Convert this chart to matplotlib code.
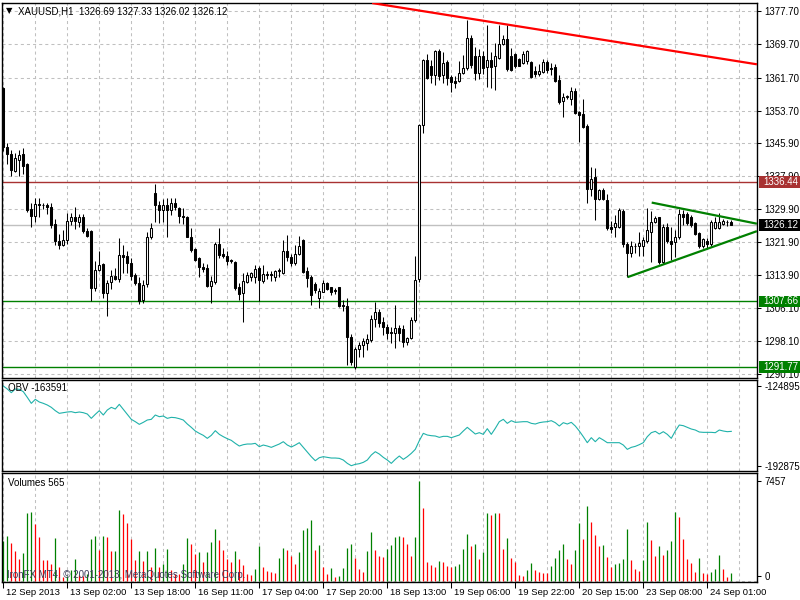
import matplotlib
matplotlib.use("Agg")
import matplotlib.pyplot as plt
import matplotlib.transforms as mtrans
from matplotlib.patches import Rectangle
import numpy as np

plt.rcParams['font.family'] = ['Liberation Sans', 'DejaVu Sans']
plt.rcParams['lines.scale_dashes'] = False

# ---- XAUUSD H1 bars, 12 Sep 2013 10:00 .. 24 Sep 2013 ----
opens = [
    1359.2, 1345.0, 1343.2, 1339.2, 1341.8, 1343.2, 1340.8, 1329.9, 1328.3, 1331.1,
    1331.0, 1330.8, 1330.5, 1326.4, 1322.3, 1321.3, 1322.4, 1327.1, 1328.0, 1326.8,
    1328.0, 1324.7, 1324.7, 1310.8, 1315.2, 1316.7, 1309.6, 1312.2, 1313.8, 1313.0,
    1318.8, 1318.6, 1316.9, 1313.9, 1312.0, 1307.9, 1311.8, 1323.1, 1333.9, 1331.0,
    1329.8, 1331.0, 1329.8, 1331.5, 1330.3, 1328.3, 1328.1, 1323.3, 1320.2, 1318.0,
    1315.9, 1315.8, 1311.4, 1312.2, 1321.5, 1319.0, 1318.6, 1317.6, 1317.2, 1311.2,
    1309.6, 1312.3, 1313.5, 1313.5, 1315.8, 1312.5, 1314.3, 1314.3, 1313.5, 1315.0,
    1314.6, 1319.8, 1318.4, 1317.0, 1319.1, 1322.5, 1315.0, 1313.6, 1311.8, 1308.4,
    1310.0, 1312.0, 1311.0, 1310.4, 1311.0, 1306.8, 1306.5, 1299.1, 1291.9, 1296.1,
    1297.1, 1297.7, 1298.3, 1303.5, 1305.0, 1302.7, 1301.5, 1300.3, 1299.9, 1301.3,
    1301.0, 1297.8, 1298.7, 1303.1, 1313.0, 1350.2, 1366.0, 1364.5, 1362.3, 1368.2,
    1362.3, 1365.5, 1361.9, 1360.8, 1360.9, 1362.9, 1363.9, 1371.3, 1366.9, 1362.7,
    1366.9, 1364.3, 1365.9, 1364.6, 1366.5, 1369.7, 1371.0, 1367.0, 1367.4, 1366.2,
    1365.3, 1365.8, 1365.5, 1363.4, 1362.6, 1363.1, 1365.5, 1364.0, 1364.3, 1361.1,
    1356.1, 1357.1, 1356.5, 1358.5, 1353.3, 1352.9, 1350.0, 1334.9, 1337.8, 1332.3,
    1334.5, 1332.1, 1325.7, 1325.7, 1325.7, 1329.5, 1321.5, 1319.4, 1320.9, 1321.1,
    1321.0, 1322.3, 1324.5, 1326.7, 1327.9, 1317.2, 1325.5, 1322.3, 1322.0, 1323.1,
    1328.8, 1328.8, 1328.1, 1326.5, 1324.1, 1321.0, 1322.2, 1321.5, 1325.3, 1325.4,
    1326.3, 1326.9, 1326.69]
highs = [
    1359.5, 1346.0, 1344.2, 1343.4, 1344.2, 1344.7, 1341.0, 1331.3, 1332.5, 1332.5,
    1331.5, 1331.5, 1331.5, 1327.5, 1324.0, 1324.9, 1328.9, 1329.1, 1330.5, 1328.7,
    1328.7, 1325.4, 1324.8, 1317.4, 1319.7, 1317.0, 1312.8, 1315.2, 1315.6, 1322.9,
    1321.3, 1319.7, 1318.0, 1314.4, 1313.6, 1312.8, 1324.5, 1326.5, 1336.0, 1332.0,
    1332.4, 1332.5, 1332.5, 1332.5, 1330.5, 1330.1, 1328.2, 1325.3, 1320.5, 1318.4,
    1316.9, 1316.6, 1313.8, 1322.1, 1325.3, 1320.5, 1319.7, 1317.8, 1317.4, 1312.0,
    1314.4, 1314.8, 1314.8, 1316.4, 1316.2, 1316.4, 1315.0, 1314.9, 1315.2, 1315.6,
    1322.5, 1323.7, 1319.1, 1321.3, 1323.4, 1322.6, 1316.0, 1314.0, 1312.4, 1310.8,
    1312.8, 1312.2, 1311.2, 1310.8, 1311.1, 1308.0, 1308.4, 1299.7, 1296.7, 1297.9,
    1298.7, 1299.8, 1304.3, 1307.6, 1305.8, 1303.9, 1302.1, 1301.4, 1306.8, 1302.0,
    1301.9, 1299.1, 1303.9, 1318.6, 1350.5, 1366.3, 1367.5, 1366.0, 1368.3, 1368.5,
    1367.9, 1366.0, 1362.3, 1362.0, 1365.6, 1367.1, 1375.6, 1372.0, 1369.2, 1368.5,
    1368.2, 1374.4, 1367.8, 1370.0, 1374.5, 1372.0, 1374.4, 1368.8, 1367.6, 1366.5,
    1368.2, 1368.3, 1365.7, 1364.6, 1364.9, 1366.3, 1366.0, 1365.2, 1364.9, 1362.3,
    1357.9, 1357.6, 1359.3, 1359.1, 1353.6, 1356.5, 1350.5, 1340.2, 1339.8, 1334.9,
    1335.0, 1333.5, 1327.0, 1328.5, 1330.3, 1329.9, 1321.9, 1322.3, 1321.7, 1324.5,
    1323.3, 1330.3, 1329.5, 1328.3, 1328.1, 1326.3, 1326.5, 1325.7, 1324.9, 1330.0,
    1329.8, 1329.2, 1328.5, 1326.7, 1324.3, 1323.0, 1323.0, 1327.3, 1328.1, 1328.9,
    1327.5, 1327.3, 1327.33]
lows = [
    1344.0, 1340.8, 1338.0, 1338.8, 1337.9, 1338.5, 1329.3, 1325.7, 1326.9, 1328.1,
    1330.0, 1328.8, 1325.3, 1321.3, 1320.3, 1321.0, 1321.5, 1326.1, 1325.1, 1325.5,
    1324.2, 1323.1, 1307.8, 1310.2, 1315.0, 1308.4, 1304.2, 1310.6, 1312.8, 1312.4,
    1314.4, 1314.4, 1312.8, 1311.6, 1307.0, 1307.2, 1311.2, 1322.7, 1326.7, 1326.5,
    1326.9, 1323.3, 1328.5, 1329.8, 1326.5, 1326.3, 1323.1, 1319.5, 1317.4, 1313.5,
    1314.7, 1311.2, 1307.3, 1311.8, 1318.0, 1318.0, 1316.4, 1317.0, 1310.5, 1308.0,
    1302.7, 1312.0, 1312.6, 1312.0, 1307.8, 1312.0, 1313.0, 1312.6, 1312.5, 1313.5,
    1314.3, 1317.5, 1316.2, 1316.5, 1318.9, 1314.5, 1311.0, 1306.8, 1309.7, 1306.0,
    1309.8, 1310.3, 1309.2, 1309.3, 1306.2, 1305.4, 1292.3, 1292.3, 1291.2, 1294.3,
    1294.3, 1295.9, 1297.9, 1301.5, 1301.5, 1299.5, 1298.5, 1297.5, 1296.3, 1298.0,
    1296.7, 1297.1, 1298.5, 1302.7, 1312.3, 1348.4, 1361.3, 1360.3, 1359.9, 1361.1,
    1360.3, 1359.9, 1358.3, 1359.1, 1360.6, 1362.5, 1363.6, 1363.9, 1361.1, 1361.4,
    1362.6, 1359.5, 1359.1, 1358.7, 1366.3, 1369.5, 1363.4, 1363.2, 1364.0, 1364.4,
    1364.9, 1364.9, 1361.5, 1361.9, 1362.1, 1362.8, 1362.9, 1362.4, 1360.7, 1355.3,
    1352.1, 1356.6, 1355.1, 1352.8, 1346.2, 1349.6, 1331.5, 1333.0, 1327.3, 1332.1,
    1332.1, 1324.9, 1324.1, 1323.3, 1325.4, 1320.8, 1313.5, 1318.3, 1319.3, 1318.6,
    1318.5, 1321.8, 1317.2, 1326.5, 1316.6, 1316.6, 1321.8, 1317.6, 1318.3, 1322.7,
    1326.1, 1326.0, 1325.6, 1323.6, 1320.5, 1320.6, 1320.2, 1321.1, 1325.0, 1325.0,
    1326.1, 1325.8, 1326.02]
closes = [
    1345.0, 1343.3, 1339.4, 1342.2, 1343.0, 1340.4, 1329.7, 1328.3, 1331.1, 1331.0,
    1330.8, 1330.4, 1326.1, 1322.3, 1321.3, 1322.4, 1327.1, 1328.0, 1327.0, 1328.0,
    1324.7, 1323.4, 1310.9, 1315.2, 1316.4, 1309.7, 1312.0, 1313.8, 1313.0, 1318.8,
    1318.3, 1316.8, 1313.8, 1312.0, 1307.7, 1311.7, 1323.1, 1325.3, 1330.8, 1329.8,
    1331.0, 1329.8, 1331.5, 1330.5, 1328.2, 1328.0, 1323.3, 1320.1, 1317.6, 1315.9,
    1315.5, 1311.4, 1312.6, 1321.5, 1318.8, 1318.7, 1317.5, 1317.3, 1310.8, 1309.4,
    1312.6, 1314.0, 1314.6, 1315.5, 1312.8, 1314.3, 1314.1, 1313.9, 1314.9, 1315.1,
    1319.8, 1318.3, 1316.8, 1319.1, 1321.0, 1314.8, 1313.2, 1309.2, 1310.4, 1310.2,
    1312.0, 1310.6, 1310.0, 1310.2, 1306.5, 1306.4, 1299.1, 1293.1, 1296.1, 1297.1,
    1298.0, 1298.5, 1303.5, 1305.0, 1302.5, 1301.5, 1299.9, 1299.9, 1301.3, 1300.0,
    1297.9, 1298.7, 1303.1, 1312.8, 1350.2, 1366.0, 1361.5, 1362.3, 1368.0, 1362.1,
    1365.2, 1361.5, 1360.7, 1360.5, 1362.9, 1364.0, 1371.2, 1364.7, 1362.7, 1366.9,
    1364.1, 1365.9, 1364.3, 1366.8, 1369.7, 1371.0, 1363.8, 1363.5, 1364.4, 1364.6,
    1367.5, 1368.0, 1361.9, 1362.6, 1363.4, 1365.5, 1363.6, 1363.7, 1360.9, 1355.9,
    1357.1, 1357.2, 1358.5, 1353.2, 1352.7, 1349.8, 1334.9, 1337.3, 1332.3, 1334.5,
    1332.3, 1325.3, 1325.1, 1326.5, 1329.7, 1321.5, 1319.4, 1321.0, 1321.1, 1321.7,
    1322.5, 1324.9, 1326.9, 1327.7, 1317.2, 1325.5, 1322.3, 1321.6, 1323.1, 1328.8,
    1328.1, 1326.5, 1326.1, 1323.8, 1321.0, 1322.6, 1321.4, 1326.9, 1326.9, 1326.8,
    1327.0, 1326.8, 1326.12]
volumes = [
    3008, 3381, 2859, 2237, 1641, 2088, 5096, 5171, 4226, 3306,
    1591, 1566, 1243, 3207, 1069, 323, 373, 820, 1641, 447,
    373, 522, 3132, 3381, 2312, 3356, 3257, 2237, 2262, 5295,
    4997, 4301, 3132, 1566, 2262, 1516, 2262, 1019, 2461, 1069,
    1243, 2387, 820, 522, 497, 1268, 3207, 2759, 2014, 2188,
    1442, 2188, 2933, 3878, 3058, 2312, 1616, 1417, 2237, 1616,
    1193, 497, 447, 895, 2610, 1069, 771, 646, 622, 1690,
    2436, 2312, 1865, 1268, 2188, 3804, 3978, 4549, 2312, 2685,
    1069, 522, 994, 323, 373, 945, 2436, 2759, 1740, 895,
    696, 2262, 3679, 2312, 1865, 1765, 2387, 2685, 3306, 3356,
    3306, 2759, 1865, 3306, 7457, 5469, 1442, 1193, 1069, 1516,
    1442, 1119, 1069, 1119, 1268, 2387, 3505, 2610, 2759, 1641,
    2188, 5096, 4922, 5096, 5071, 2387, 3207, 1690, 1442, 447,
    373, 820, 1367, 820, 646, 622, 597, 1119, 1740, 2312,
    2759, 1616, 1268, 2312, 4351, 3132, 5618, 4425, 3431, 2610,
    2685, 1765, 1069, 1268, 1367, 1616, 3853, 1566, 895, 771,
    1566, 4375, 3058, 1865, 2610, 1939, 2312, 2983, 5121, 4748,
    3132, 1616, 1318, 696, 1690, 572, 547, 696, 895, 1939,
    895, 323, 565]
obv = [
    -124895, -127455, -130583, -127455, -127739, -129730, -134565, -139684, -136271, -138546,
    -139684, -141106, -143097, -145941, -148216, -147647, -147078, -146794, -147647, -147078,
    -147647, -148785, -152482, -149069, -145941, -149638, -145372, -143097, -144519, -140537,
    -144803, -149069, -153335, -155326, -157601, -155895, -153904, -153335, -149638, -151060,
    -150491, -152482, -151629, -151913, -152766, -153904, -157317, -160161, -163289, -165280,
    -166986, -169546, -166986, -163005, -166133, -168124, -169830, -171252, -173812, -176087,
    -174950, -174381, -174381, -173812, -176656, -175234, -176087, -177225, -175803, -174381,
    -172390, -175234, -176940, -175234, -173244, -177225, -181206, -185188, -188601, -186041,
    -185188, -185757, -186326, -186326, -186610, -188032, -190876, -192875, -191729, -191160,
    -190023, -188032, -183766, -180922, -182913, -185757, -188032, -190876, -187463, -184619,
    -187463, -185188, -182344, -178931, -171537, -165280, -166702, -167271, -167555, -168693,
    -167840, -167840, -168977, -167840, -166702, -163289, -160161, -163005, -165849, -164711,
    -166133, -161298, -166133, -161014, -155326, -153335, -156748, -154473, -155895, -155610,
    -155326, -155326, -156748, -157317, -156179, -155610, -155326, -154473, -156179, -159023,
    -156179, -157317, -155895, -159023, -163289, -168124, -173244, -168977, -172390, -168977,
    -170968, -173244, -173244, -173244, -173244, -175234, -178931, -177225, -176372, -174950,
    -173244, -168124, -164711, -163574, -165849, -163858, -166133, -169546, -163289, -158170,
    -158739, -160161, -161583, -162436, -164142, -164427, -164427, -164427, -164711, -162436,
    -163289, -163858, -163591]

date_labels = ['12 Sep 2013', '13 Sep 02:00', '13 Sep 18:00', '16 Sep 11:00',
               '17 Sep 04:00', '17 Sep 20:00', '18 Sep 13:00', '19 Sep 06:00',
               '19 Sep 22:00', '20 Sep 15:00', '23 Sep 08:00', '24 Sep 01:00']
price_ticks = [1377.70, 1369.70, 1361.70, 1353.70, 1345.90, 1337.90,
               1329.90, 1321.90, 1313.90, 1306.10, 1298.10, 1290.10]

# drawn objects (bar index, price)
red_trend = [(92.2, 1379.7), (188.4, 1364.9)]
tri_upper = [(162.1, 1331.5), (188.4, 1326.4)]
tri_lower = [(156.1, 1313.5), (188.4, 1324.6)]
levels = [(1336.44, '#a83232'), (1326.12, '#c0c0c0'), (1307.66, '#008000'), (1291.77, '#008000')]
level_boxes = [(1336.44, '#a83232'), (1326.12, '#000000'), (1307.66, '#008000'), (1291.77, '#008000')]

W, H = 800, 600


def px_box(l, t, r, b):
    return [l / W, 1 - b / H, (r - l) / W, (b - t) / H]


GRID = dict(color='#c0c0c0', lw=0.75, ls=(0, (2.2, 2.2)), zorder=0)

fig = plt.figure(figsize=(8, 6), dpi=100)
ax = fig.add_axes(px_box(2.3, 2.5, 757.3, 377.5))
ax_obv = fig.add_axes(px_box(2.3, 379.5, 757.3, 471))
ax_vol = fig.add_axes(px_box(2.3, 473, 757.3, 582))

x = np.arange(len(closes))
o = np.array(opens)
h = np.array(highs)
l = np.array(lows)
c = np.array(closes)
up = c >= o

for a in (ax, ax_obv, ax_vol):
    a.set_xlim(-0.25, 188.5)
    for g in range(0, 189, 8):
        a.axvline(g, **GRID)
    for s in a.spines.values():
        s.set_color('black')
        s.set_linewidth(1.0)
    a.tick_params(axis='x', bottom=False, labelbottom=False)
    a.tick_params(axis='y', left=False, labelleft=False, right=True, labelright=True,
                  length=3, width=0.75, pad=2, labelsize=7, direction='out')

# ---- price panel ----
ax.set_ylim(1289.25, 1379.83)
for p in price_ticks:
    ax.axhline(p, **GRID)
ax.set_yticks(price_ticks)
ax.set_yticklabels(['%.2f' % p for p in price_ticks])

for val, col in levels:
    ax.axhline(val, color=col, lw=1.0, zorder=1)

ax.vlines(x, l, h, color='black', lw=0.75, zorder=3)
ax.bar(x, np.maximum(np.abs(c - o), 0.05), 0.55, bottom=np.minimum(o, c),
       color=np.where(up, 'white', 'black'), edgecolor='black', lw=0.75, zorder=4)

for pts, col in ((red_trend, '#ff0000'), (tri_upper, '#008000'), (tri_lower, '#008000')):
    (x0, y0), (x1, y1) = pts
    ax.plot([x0, x1], [y0, y1], color=col, lw=1.6, zorder=5, solid_capstyle='butt')

blend = mtrans.blended_transform_factory(ax.transAxes, ax.transData)
bx0 = (758.5 - 2.3) / 755.0
bw = (800 - 758.5) / 755.0
bh = 11.5 / 4.14
tx = (763 - 2.3) / 755.0
for val, col in level_boxes:
    ax.add_patch(Rectangle((bx0, val - bh / 2), bw, bh, transform=blend,
                           facecolor=col, edgecolor='none', clip_on=False, zorder=6))
    ax.text(tx, val, '%.2f' % val, transform=blend, color='white', fontsize=7,
            va='center', ha='left', clip_on=False, zorder=7)

# ---- OBV panel ----
ax_obv.plot(x, obv, color='#20b2aa', lw=0.8)
ax_obv.set_ylim(-197396, -119351)
ax_obv.set_yticks([-124895, -192875])
ax_obv.set_yticklabels(['-124895', '-192875'])

# ---- volumes panel ----
vol = np.array(volumes)
vcol = ['#008000' if i == 0 or vol[i] > vol[i - 1] else '#ff0000' for i in range(len(vol))]
ax_vol.axhline(0, **GRID)
ax_vol.vlines(x, 0, vol, colors=vcol, lw=0.9, zorder=2)
ax_vol.set_ylim(-75, 8054)
ax_vol.set_yticks([373, 7457])
ax_vol.set_yticklabels(['0', '7457'])

ax_vol.set_xticks(np.arange(0, 177, 16))
ax_vol.set_xticklabels(date_labels)
ax_vol.tick_params(axis='x', bottom=True, labelbottom=True, length=4, width=0.75,
                   pad=0.5, labelsize=6.8, direction='out')
off = mtrans.ScaledTranslation(2.5 / 100, 0, fig.dpi_scale_trans)
for lab in ax_vol.get_xticklabels():
    lab.set_horizontalalignment('left')
    lab.set_transform(lab.get_transform() + off)

# ---- captions ----
fig.text(9.5 / W, 1 - 11 / H, '\u25bc', fontsize=6, family='DejaVu Sans', ha='center', va='center')
fig.text(18 / W, 1 - 11 / H, 'XAUUSD,H1  1326.69 1327.33 1326.02 1326.12', fontsize=7, va='center')
fig.text(8 / W, 1 - 388 / H, 'OBV -163591', fontsize=7, va='center')
fig.text(8 / W, 1 - 483 / H, 'Volumes 565', fontsize=7, va='center')
fig.text(7 / W, 1 - 575 / H, 'IronFX MT4, \u00a9 2001-2013, MetaQuotes Software Corp.',
         fontsize=7, va='center', color='#3c3c5a')

fig.savefig('out.png', dpi=100)
